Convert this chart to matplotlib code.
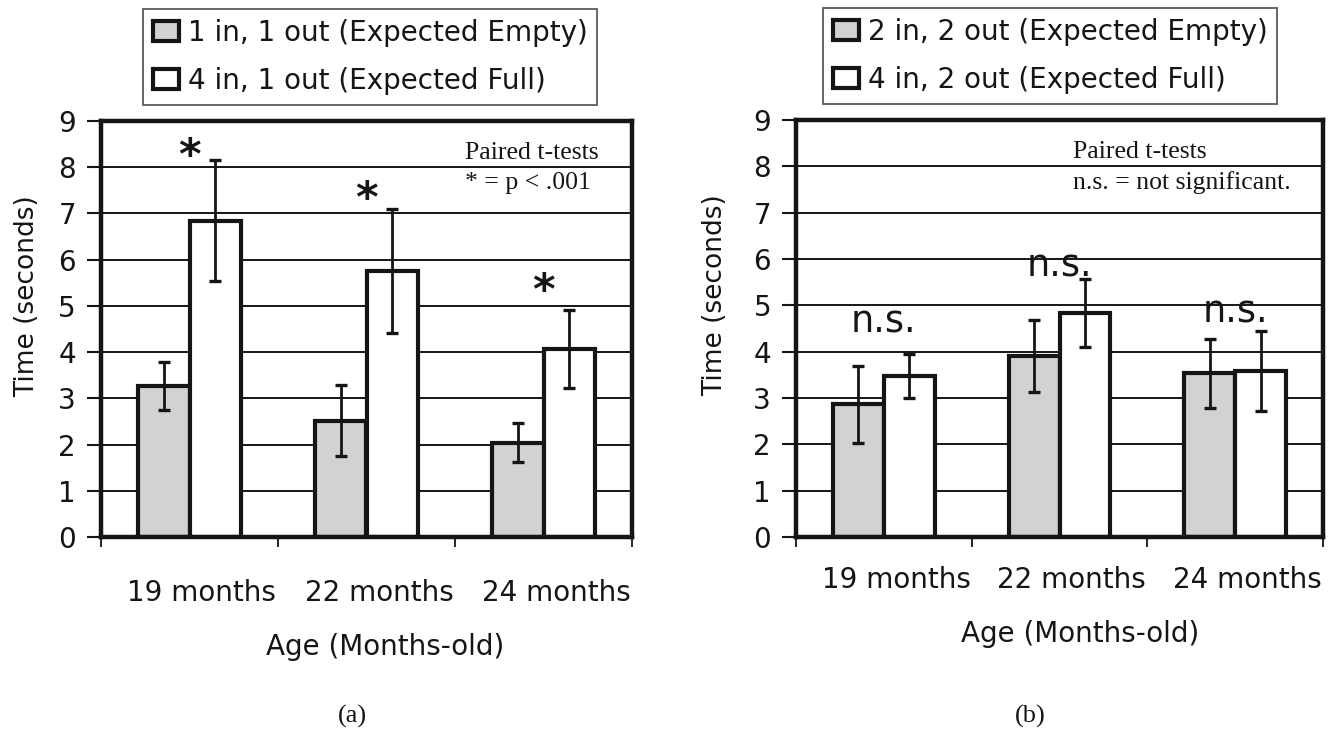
import matplotlib
matplotlib.use('Agg')
import matplotlib.pyplot as plt
from matplotlib.transforms import offset_copy
import numpy as np

# ---------------- data ----------------
categories = ['19 months', '22 months', '24 months']
yticks = [0, 1, 2, 3, 4, 5, 6, 7, 8, 9]

a_empty = [3.27, 2.52, 2.04]
a_empty_err = [0.52, 0.76, 0.42]
a_full = [6.84, 5.76, 4.07]
a_full_err = [1.31, 1.34, 0.84]
a_labels = ['1 in, 1 out (Expected Empty)', '4 in, 1 out (Expected Full)']
a_marks = ['*', '*', '*']
a_mark_y = [8.4, 7.47, 5.47]
a_note = ['Paired t-tests', '* = p < .001']

b_empty = [2.86, 3.90, 3.53]
b_empty_err = [0.83, 0.78, 0.74]
b_full = [3.48, 4.83, 3.58]
b_full_err = [0.48, 0.74, 0.87]
b_labels = ['2 in, 2 out (Expected Empty)', '4 in, 2 out (Expected Full)']
b_marks = ['n.s.', 'n.s.', 'n.s.']
b_mark_y = [4.41, 5.62, 4.62]
b_note = ['Paired t-tests', 'n.s. = not significant.']

x_title = 'Age (Months-old)'
y_title = 'Time (seconds)'

# ---------------- style ----------------
W, H = 1341, 731
SANS = 'DejaVu Sans'
SERIF = 'Liberation Serif'
INK = '#151515'
GRAY = '#d2d2d2'
plt.rcParams['font.family'] = SANS

fig = plt.figure(figsize=(W / 100, H / 100), dpi=100)
fig.patch.set_facecolor('white')


def px_axes(x0, x1, ytop, ybot):
    return fig.add_axes([x0 / W, 1 - ybot / H, (x1 - x0) / W, (ybot - ytop) / H])


def draw_panel(ax, empty, eerr, full, ferr, labels, marks, mark_y, mark_kw,
               mark_dy, note, note_x, tick_pad, xlab_pos, ylab_pos):
    x = np.arange(len(categories))
    w = 0.29
    b1 = ax.bar(x - w / 2, empty, w, color=GRAY, edgecolor=INK, linewidth=3,
                zorder=2, label=labels[0])
    b2 = ax.bar(x + w / 2, full, w, color='white', edgecolor=INK, linewidth=3,
                zorder=2, label=labels[1])
    ax.errorbar(x - w / 2, empty, yerr=eerr, fmt='none', ecolor=INK,
                elinewidth=2, capsize=4.3, capthick=2.4, zorder=3)
    ax.errorbar(x + w / 2, full, yerr=ferr, fmt='none', ecolor=INK,
                elinewidth=2, capsize=4.3, capthick=2.4, zorder=3)

    ax.set_xlim(-0.5, len(categories) - 0.5)
    ax.set_ylim(0, 9)
    ax.set_yticks(yticks)
    ax.set_yticklabels([str(t) for t in yticks])
    ax.yaxis.grid(True, color=INK, linewidth=1.4, zorder=0)
    ax.set_axisbelow(True)
    ax.tick_params(axis='y', direction='out', length=10, width=1.5,
                   pad=8, labelsize=20, colors=INK)

    ax.set_xticks(np.arange(len(categories) + 1) - 0.5)
    ax.set_xticklabels([])
    ax.tick_params(axis='x', which='major', direction='out', length=7,
                   width=1.3, colors=INK)
    ax.set_xticks(x + 0.07, minor=True)
    ax.set_xticklabels(categories, minor=True)
    ax.tick_params(axis='x', which='minor', length=0, pad=tick_pad,
                   labelsize=20, labelcolor=INK)

    for s in ax.spines.values():
        s.set_linewidth(3.2)
        s.set_color(INK)
        s.set_zorder(4)

    ax.set_xlabel(x_title, fontsize=20, color=INK)
    ax.xaxis.set_label_coords(*xlab_pos)
    ax.xaxis.label.set_va('center')
    ax.set_ylabel(y_title, fontsize=19, color=INK)
    ax.yaxis.set_label_coords(*ylab_pos)
    ax.yaxis.label.set_va('center')

    mtr = offset_copy(ax.transData, fig=fig, x=0, y=mark_dy, units='dots')
    for xi, m, my in zip(x, marks, mark_y):
        ax.text(xi, my, m, ha='center', color=INK, zorder=5, transform=mtr,
                **mark_kw)

    tr = ax.get_yaxis_transform()
    ax.text(note_x, 8.31, note[0], transform=tr, ha='left', va='center',
            family=SERIF, fontsize=18.5, color=INK)
    ax.text(note_x, 7.66, note[1], transform=tr, ha='left', va='center',
            family=SERIF, fontsize=18.5, color=INK)
    return b1, b2


def add_legend(handles, labels, x0, ytop):
    leg = fig.legend(handles, labels, loc='upper left',
                     bbox_to_anchor=(x0 / W, 1 - ytop / H),
                     fontsize=20, frameon=True, fancybox=False,
                     borderpad=0.36, labelspacing=0.72, handlelength=0.95,
                     handleheight=0.72, handletextpad=0.3, borderaxespad=0)
    fr = leg.get_frame()
    fr.set_edgecolor('#333333')
    fr.set_linewidth(1.3)
    for t in leg.get_texts():
        t.set_color(INK)
    return leg


# ---------------- panel (a) ----------------
axa = px_axes(101, 632, 121, 537)
ha = draw_panel(axa, a_empty, a_empty_err, a_full, a_full_err, a_labels,
                a_marks, a_mark_y,
                dict(va='center', fontsize=31, fontweight='bold'), -8,
                a_note, 0.685, 30, (0.535, -0.264), (-0.139, 0.58))
add_legend(ha, a_labels, 143, 9)

# ---------------- panel (b) ----------------
axb = px_axes(796, 1323, 120, 537)
hb = draw_panel(axb, b_empty, b_empty_err, b_full, b_full_err, b_labels,
                b_marks, b_mark_y,
                dict(va='baseline', fontsize=26.5), 0,
                b_note, 0.526, 21, (0.539, -0.233), (-0.154, 0.58))
add_legend(hb, b_labels, 823, 8)

fig.text(352 / W, 1 - 716 / H, '(a)', ha='center', va='center',
         family=SERIF, fontsize=19, color=INK)
fig.text(1030 / W, 1 - 716 / H, '(b)', ha='center', va='center',
         family=SERIF, fontsize=19, color=INK)

fig.savefig('out.png', dpi=100, facecolor='white')
